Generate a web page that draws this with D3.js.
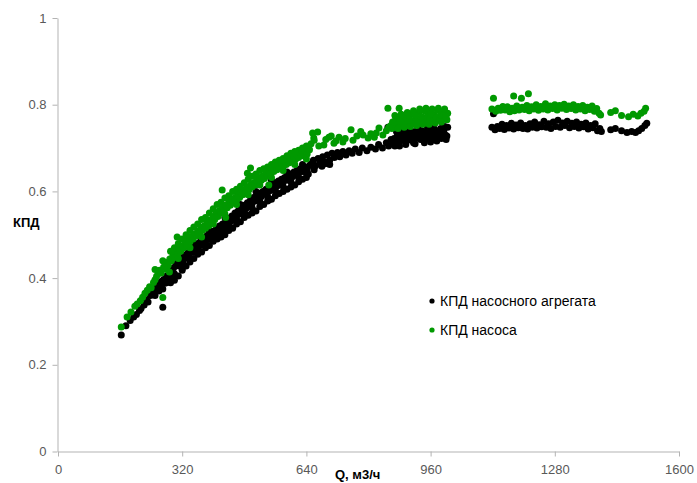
<!DOCTYPE html>
<html><head><meta charset="utf-8">
<script src="https://cdn.jsdelivr.net/npm/d3@7"></script>
<style>body{margin:0;background:#fff}svg{display:block}</style>
</head><body>
<svg id="c" width="697" height="483"></svg>
<script>
const xTicks = [0, 320, 640, 960, 1280, 1600];
const yTicks = [0, 0.2, 0.4, 0.6, 0.8, 1];
const seriesNames = ["КПД насосного агрегата", "КПД насоса"];
const xTitle = "Q, м3/ч";
const yTitle = "КПД";

// КПД насосного агрегата  [Q, КПД]
const agregatPoints = [
[163,.269],[175,.29],[186,.302],[195,.31],[202,.316],[210,.325],[214,.33],[222,.338],[228,.35],[232,.345],[238,.36],[244,.365],[248,.372],[252,.38],[256,.377],[262,.385],[266,.392],[270,.333],[272,.397],[276,.388],[280,.405],[284,.398],[288,.41],[290,.389],[290,.42],[294,.415],[298,.424],[300,.41],[300,.395],[304,.43],[308,.436],[312,.428],[315,.44],[318,.445],[320,.418],[320,.423],[322,.435],[326,.452],[330,.446],[334,.458],[338,.45],[340,.437],[340,.465],[344,.47],[348,.46],[352,.475],[356,.468],[360,.455],[360,.48],[364,.474],[368,.487],[372,.48],[376,.492],[380,.47],[380,.485],[384,.498],[388,.49],[392,.502],[396,.497],[400,.485],[400,.508],[404,.5],[408,.514],[412,.506],[416,.52],[420,.495],[420,.512],[424,.525],[428,.518],[432,.511],[432,.53],[436,.524],[440,.51],[440,.538],[444,.53],[448,.543],[452,.535],[456,.55],[460,.525],[460,.542],[464,.555],[468,.548],[472,.562],[476,.555],[480,.54],[480,.568],[484,.56],[488,.574],[492,.566],[496,.58],[500,.55],[500,.572],[504,.586],[508,.578],[512,.59],[516,.584],[520,.565],[520,.596],[524,.588],[528,.6],[532,.594],[536,.605],[540,.578],[540,.598],[543,.58],[544,.61],[548,.602],[552,.615],[556,.608],[560,.59],[560,.62],[564,.612],[568,.624],[572,.618],[576,.628],[580,.6],[580,.622],[584,.632],[588,.626],[592,.636],[596,.63],[600,.61],[600,.64],[604,.634],[608,.645],[612,.638],[616,.648],[620,.622],[620,.642],[624,.652],[630,.646],[636,.656],[640,.632],[642,.65],[648,.66],
[250,.36],[270,.375],[290,.40],[310,.405],[330,.428],[350,.445],[370,.46],[390,.475],[410,.49],[430,.50],[450,.515],[470,.53],[490,.545],[510,.555],[530,.57],[550,.582],[570,.595],[590,.605],[610,.615],[630,.628],[645,.64],[660,.65],[680,.658],[700,.662],
[260,.37],[280,.39],[300,.405],[320,.425],[340,.445],[360,.462],[380,.477],[400,.492],[420,.505],[440,.52],[460,.535],[480,.55],[500,.562],[520,.578],[540,.588],[560,.602],[580,.612],[600,.622],[620,.632],[640,.642],[660,.656],[690,.668],
[310,.44],[350,.48],[390,.51],[430,.54],[470,.57],[510,.6],[550,.625],[590,.645],[630,.662],
[652,.664],[658,.672],[664,.66],[670,.676],[676,.668],[682,.68],[688,.664],[694,.684],[700,.672],[706,.688],[712,.678],[720,.69],[726,.68],[734,.692],[742,.684],[750,.694],[758,.688],[766,.698],[776,.69],[784,.7],[796,.694],[806,.702],[818,.698],[826,.708],[836,.7],[846,.712],[850,.748],[852,.705],[858,.72],
[862,.71],[866,.722],[870,.715],[874,.728],[878,.712],[880,.705],[882,.725],[886,.718],[890,.732],[894,.716],[898,.728],[902,.72],[906,.735],[910,.718],[914,.73],[918,.722],[920,.71],[922,.738],[926,.724],[930,.732],[934,.72],[938,.74],[942,.726],[946,.734],[950,.722],[954,.742],[958,.728],[960,.714],[962,.736],[966,.724],[970,.744],[974,.73],[978,.738],[982,.726],[986,.745],[990,.732],[994,.74],[998,.73],[1000,.72],[1004,.748],
[868,.705],[884,.735],[896,.708],[908,.742],[916,.712],[928,.745],[944,.712],[952,.748],[964,.745],[976,.716],[988,.722],[996,.75],[1002,.728],[872,.738],[892,.74],[936,.73],[968,.732],[984,.736],
[1118,.748],[1122,.779],[1126,.742],[1132,.75],[1138,.745],[1144,.755],[1150,.743],[1156,.752],[1162,.746],[1168,.757],[1174,.744],[1180,.753],[1186,.747],[1192,.758],[1198,.745],[1204,.752],[1210,.744],[1216,.756],[1222,.748],[1228,.76],[1234,.746],[1240,.754],[1246,.749],[1252,.762],[1258,.748],[1264,.756],[1270,.745],[1276,.76],[1282,.75],[1288,.764],[1294,.748],[1300,.758],[1306,.752],[1312,.762],[1318,.747],[1324,.757],[1330,.75],[1336,.76],[1342,.746],[1348,.755],[1354,.749],[1360,.758],[1366,.744],[1372,.752],[1378,.747],[1384,.756],[1390,.74],[1396,.745],[1400,.738],
[1424,.742],[1436,.745],[1452,.74],[1466,.736],[1478,.738],[1488,.736],[1496,.74],[1504,.745],[1512,.752],[1517,.757]
];

// КПД насоса  [Q, КПД]
const nasosPoints = [
[163,.287],[178,.31],[188,.322],[198,.335],[204,.34],[212,.348],[218,.356],[224,.365],[230,.372],[236,.38],[240,.378],[246,.39],[250,.396],[254,.404],[258,.41],[262,.418],[266,.412],[270,.355],[272,.425],[276,.43],[280,.436],[284,.43],[287,.414],[288,.444],[292,.44],[296,.452],[300,.448],[300,.47],[304,.46],[307,.495],[308,.455],[312,.468],[316,.462],[320,.474],[320,.49],[324,.47],[328,.482],[332,.476],[336,.49],[340,.484],[340,.51],[344,.496],[348,.49],[352,.502],[356,.497],[360,.508],[360,.525],[364,.503],[368,.515],[372,.51],[376,.52],[380,.515],[380,.54],[384,.528],[388,.52],[392,.534],[396,.528],[400,.542],[400,.56],[404,.535],[408,.55],[412,.542],[416,.556],[420,.55],[420,.575],[423,.603],[424,.562],[428,.556],[432,.54],[432,.568],[436,.562],[440,.575],[440,.59],[444,.568],[448,.58],[452,.574],[456,.586],[460,.58],[460,.605],[464,.592],[468,.586],[472,.598],[476,.592],[480,.604],[480,.62],[484,.598],[488,.61],[488,.642],[492,.604],[496,.615],[496,.654],[500,.61],[500,.635],[504,.62],[508,.615],[512,.626],[516,.62],[520,.632],[520,.648],[524,.626],[528,.636],[532,.63],[536,.642],[540,.636],[540,.656],[543,.615],[544,.646],[548,.64],[552,.652],[556,.646],[560,.656],[560,.668],[564,.65],[568,.66],[572,.654],[576,.664],[580,.658],[580,.676],[584,.668],[588,.662],[592,.672],[596,.666],[600,.676],[600,.688],[604,.67],[608,.68],[612,.674],[616,.684],[620,.678],[620,.695],[624,.688],[630,.682],[636,.692],[640,.705],[642,.686],[646,.7],[648,.696],
[250,.42],[270,.44],[290,.462],[310,.48],[330,.50],[350,.518],[370,.535],[390,.55],[410,.57],[430,.585],[450,.6],[470,.612],[490,.628],[510,.64],[530,.652],[550,.662],[570,.672],[590,.682],[610,.692],[630,.70],
[280,.42],[310,.445],[340,.47],[370,.495],[400,.525],[430,.548],[460,.57],[490,.592],[520,.615],[550,.632],[580,.648],[610,.662],[640,.675],
[652,.71],[656,.735],[659,.723],[660,.718],[669,.737],[672,.705],[685,.707],[690,.72],[698,.725],[704,.728],[711,.711],[716,.716],[724,.725],[734,.714],[740,.722],[755,.742],[760,.718],[770,.728],[780,.738],[786,.73],[799,.723],[806,.733],[815,.725],[820,.735],[827,.746],[837,.73],[846,.74],[850,.792],[852,.748],[879,.792],
[858,.752],[862,.76],[866,.748],[870,.765],[874,.755],[878,.77],[882,.752],[886,.762],[890,.775],[894,.758],[898,.768],[902,.752],[906,.775],[910,.762],[914,.78],[918,.756],[922,.77],[926,.764],[930,.782],[934,.758],[938,.772],[942,.766],[946,.785],[950,.76],[954,.775],[958,.768],[962,.786],[966,.762],[970,.776],[974,.77],[978,.788],[982,.764],[986,.778],[990,.772],[994,.785],[998,.768],[1004,.78],
[860,.745],[868,.775],[876,.745],[884,.778],[892,.748],[900,.782],[908,.75],[916,.786],[924,.752],[932,.79],[940,.755],[948,.792],[956,.755],[964,.79],[972,.758],[980,.792],[988,.76],[996,.79],[1002,.765],[880,.762],[920,.775],[960,.778],[1000,.772],
[1118,.79],[1122,.815],[1128,.785],[1134,.792],[1140,.787],[1146,.796],[1152,.788],[1158,.795],[1164,.784],[1170,.792],[1174,.82],[1176,.786],[1182,.797],[1188,.788],[1194,.815],[1196,.794],[1202,.789],[1208,.798],[1212,.825],[1214,.786],[1220,.795],[1226,.79],[1232,.8],[1238,.787],[1244,.796],[1250,.79],[1256,.802],[1262,.788],[1268,.797],[1274,.791],[1280,.8],[1286,.788],[1292,.798],[1298,.792],[1304,.801],[1310,.789],[1316,.797],[1322,.791],[1328,.8],[1334,.788],[1340,.796],[1346,.79],[1352,.798],[1358,.786],[1364,.794],[1370,.789],[1376,.797],[1382,.785],[1388,.791],[1394,.78],[1398,.776],
[1424,.782],[1436,.786],[1452,.775],[1470,.772],[1482,.778],[1494,.774],[1502,.78],[1510,.785],[1514,.792]
];

const colors = ["#000000", "#009900"];
const svg = d3.select("#c");
const x = d3.scaleLinear().domain([0, 1600]).range([58, 679]);
const y = d3.scaleLinear().domain([0, 1]).range([451.5, 18]);
const font = "'Liberation Sans', Arial, sans-serif";

const xAxis = svg.append("g").attr("transform", "translate(0,451.5)")
  .call(d3.axisBottom(x).tickValues(xTicks).tickSize(5).tickSizeOuter(0).tickPadding(8).tickFormat(d3.format("d")));
const yAxis = svg.append("g").attr("transform", "translate(57.5,0)")
  .call(d3.axisLeft(y).tickValues(yTicks).tickSize(5).tickSizeOuter(0).tickPadding(6)
    .tickFormat(d => (d === 0 || d === 1) ? String(d) : d3.format(".1f")(d)));
[xAxis, yAxis].forEach(g => {
  g.select(".domain").attr("stroke", "#b3b3b3");
  g.selectAll(".tick line").attr("stroke", "#b3b3b3");
  g.selectAll(".tick text").attr("fill", "#595959").style("font", "13px " + font);
});

const series = [agregatPoints, nasosPoints];
series.forEach((pts, i) => {
  svg.append("g").selectAll("circle").data(pts).join("circle")
    .attr("cx", d => x(d[0])).attr("cy", d => y(d[1])).attr("r", 3.5)
    .attr("fill", colors[i]);
});

svg.append("text").attr("x", 13).attr("y", 227).text(yTitle)
  .style("font", "bold 13px " + font).attr("fill", "#000");
svg.append("text").attr("x", 335).attr("y", 479).text(xTitle)
  .style("font", "bold 13px " + font).attr("fill", "#000");

const leg = svg.append("g");
seriesNames.forEach((n, i) => {
  leg.append("circle").attr("cx", 432).attr("cy", 301 + i * 29).attr("r", 2.6).attr("fill", colors[i]);
  leg.append("text").attr("x", 440).attr("y", 306 + i * 29).text(n)
    .style("font", "14px " + font).attr("fill", "#000");
});
</script>
</body></html>
